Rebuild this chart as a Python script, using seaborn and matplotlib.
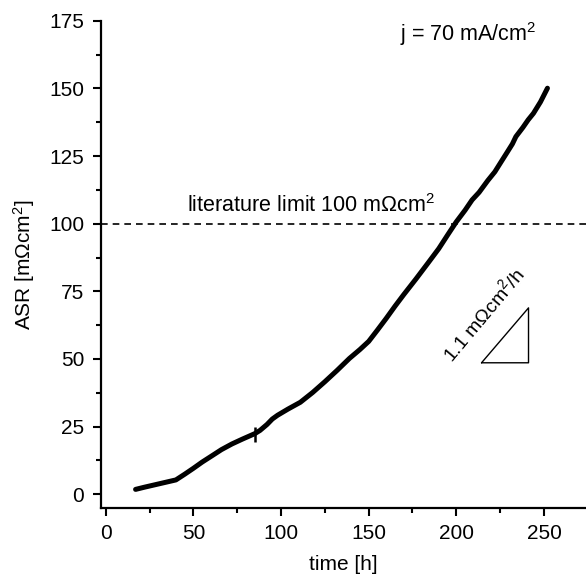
import numpy as np
import pandas as pd
import matplotlib
matplotlib.use("Agg")
import matplotlib.pyplot as plt
from matplotlib.ticker import MultipleLocator
import seaborn as sns

# ASR vs time
time_h = [17, 22, 28, 34, 40, 45, 50, 55, 61, 66, 72, 78, 85, 88, 92, 95, 98, 104, 111,
          118, 125, 132, 139, 145, 150, 155, 160, 165, 170, 177, 184, 190, 195, 200,
          205, 209, 213, 218, 222, 225, 229, 232, 234, 238, 241, 244, 248, 252]
asr = [1.8, 2.6, 3.5, 4.4, 5.3, 7.4, 9.6, 11.9, 14.4, 16.5, 18.6, 20.4, 22.4, 23.6, 25.8,
       27.8, 29.2, 31.5, 34.0, 37.6, 41.6, 45.8, 50.2, 53.5, 56.5, 60.7, 65.0, 69.5, 73.8,
       79.6, 85.6, 90.8, 95.8, 100.7, 105.0, 108.8, 111.6, 116.0, 119.2, 122.3, 126.4,
       129.5, 132.2, 135.6, 138.4, 140.8, 145.0, 150.1]

marker_t = [85]
marker_asr = [22.2]
marker_err = [2.8]

limit_value = 100
tri_t = [214.4, 241.2, 241.2, 214.4]
tri_asr = [48.6, 48.6, 68.9, 48.6]

df = pd.DataFrame({"time [h]": time_h, "ASR": asr})

sns.set_style("ticks")
plt.rcParams["font.family"] = ["Liberation Sans", "DejaVu Sans"]
plt.rcParams["mathtext.fontset"] = "custom"
plt.rcParams["mathtext.rm"] = "Liberation Sans"
plt.rcParams["mathtext.it"] = "Liberation Sans:italic"
plt.rcParams["text.color"] = "black"
plt.rcParams["axes.labelcolor"] = "black"

fig = plt.figure(figsize=(5.86, 5.79), dpi=100)
ax = fig.add_axes([0.172, 0.123, 0.828, 0.841])

sns.lineplot(data=df, x="time [h]", y="ASR", ax=ax, color="black", linewidth=3.6,
             sort=False, estimator=None)
ax.errorbar(marker_t, marker_asr, yerr=marker_err, fmt="none", ecolor="black",
            elinewidth=1.8, capsize=0)
ax.axhline(limit_value, color="black", linestyle=(0, (4, 3)), linewidth=1.2)
ax.plot(tri_t, tri_asr, color="black", linewidth=1.0)

ax.text(46.2, 104.3, r"literature limit 100 mΩcm$^2$", fontsize=15.5, ha="left", va="baseline")
ax.text(167.8, 167.5, r"j = 70 mA/cm$^2$", fontsize=15.5, ha="left", va="baseline")
ax.text(199.0, 47.5, r"1.1 mΩcm$^2$/h", fontsize=14, ha="left", va="bottom",
        rotation=50, rotation_mode="anchor")

ax.set_xlim(-2.85, 274)
ax.set_ylim(-5, 175)
ax.xaxis.set_major_locator(MultipleLocator(50))
ax.xaxis.set_minor_locator(MultipleLocator(25))
ax.yaxis.set_major_locator(MultipleLocator(25))
ax.yaxis.set_minor_locator(MultipleLocator(12.5))
ax.tick_params(which="major", direction="out", length=6, width=1.5, labelsize=15,
               color="black", labelcolor="black", pad=6)
ax.tick_params(which="minor", direction="out", length=3.5, width=1.5, color="black")

ax.set_xlabel("time [h]", fontsize=15, labelpad=8)
ax.set_ylabel(r"ASR [mΩcm$^2$]", fontsize=15, labelpad=9)

sns.despine(ax=ax)
for side in ["left", "bottom"]:
    ax.spines[side].set_linewidth(1.6)
    ax.spines[side].set_color("black")

fig.savefig("out.png", dpi=100)
